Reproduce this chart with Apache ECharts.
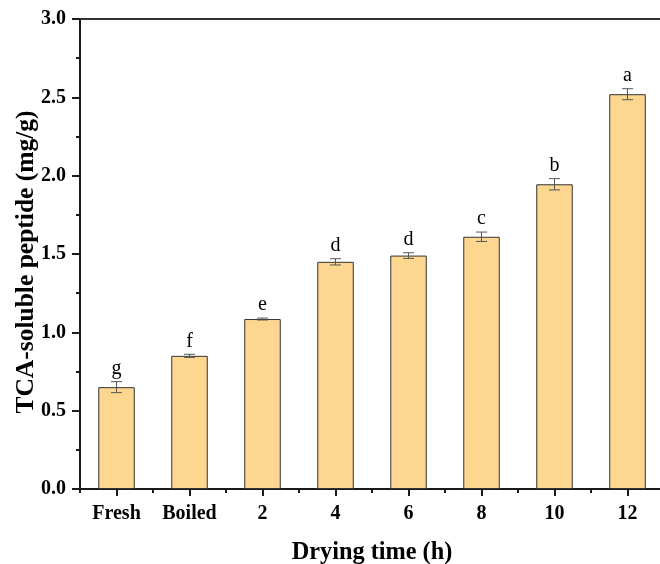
<!DOCTYPE html>
<html><head><meta charset="utf-8">
<script src="https://cdn.jsdelivr.net/npm/echarts@6/dist/echarts.min.js"></script>
<style>html,body{margin:0;padding:0;background:#fff}#c{width:660px;height:564px}</style>
</head><body><div id="c"></div>
<script>
var categories = ['Fresh','Boiled','2','4','6','8','10','12'];
var values = [0.65, 0.85, 1.085, 1.45, 1.49, 1.61, 1.945, 2.52];
var errors = [0.035, 0.01, 0.006, 0.02, 0.018, 0.03, 0.036, 0.035];
var letters = ['g','f','e','d','d','c','b','a'];

var SERIF = '"Liberation Serif","Times New Roman",serif';
var chart = echarts.init(document.getElementById('c'), null, {renderer:'canvas'});
var errData = values.map(function(v,i){return [i, v, errors[i]];});

chart.setOption({
  animation:false,
  grid:{left:80, top:19, width:584, height:470, containLabel:false, outerBoundsMode:'none'},
  xAxis:[
    {type:'category', data:categories, position:'bottom',
     axisLine:{show:true, lineStyle:{color:'#1a1a1a', width:2}},
     axisTick:{show:true, alignWithLabel:true, length:7, lineStyle:{color:'#1a1a1a', width:2}},
     axisLabel:{fontFamily:SERIF, fontWeight:'bold', fontSize:20, color:'#000', margin:15},
     name:'Drying time (h)', nameLocation:'middle', nameGap:52, nameMoveOverlap:false,
     nameTextStyle:{fontFamily:SERIF, fontWeight:'bold', fontSize:24.3, color:'#000'}},
    {type:'category', data:categories, position:'bottom',
     axisLine:{show:false}, axisLabel:{show:false},
     axisTick:{show:true, alignWithLabel:false, length:4, lineStyle:{color:'#1a1a1a', width:2}}},
    {type:'category', data:categories, position:'top',
     axisLine:{show:true, lineStyle:{color:'#333', width:2}},
     axisTick:{show:false}, axisLabel:{show:false}}
  ],
  yAxis:{type:'value', min:0, max:3, interval:0.5,
    axisLine:{show:true, lineStyle:{color:'#1a1a1a', width:2}},
    axisTick:{show:true, length:8, lineStyle:{color:'#1a1a1a', width:2}},
    minorTick:{show:true, splitNumber:2, length:4, lineStyle:{color:'#1a1a1a', width:2}},
    splitLine:{show:false},
    axisLabel:{fontFamily:SERIF, fontWeight:'bold', fontSize:20, color:'#000', margin:14,
      formatter:function(v){return v.toFixed(1);}},
    name:'TCA-soluble peptide (mg/g)', nameLocation:'middle', nameGap:41, nameRotate:90,
    nameMoveOverlap:false,
    nameTextStyle:{fontFamily:SERIF, fontWeight:'bold', fontSize:25.5, color:'#000', padding:[0,16,0,0]}},
  series:[
    {type:'bar', data:values, barWidth:'50%', xAxisIndex:0,
     itemStyle:{color:'#FDD690', borderColor:'#333', borderWidth:1}},
    {type:'custom', xAxisIndex:0, data:errData, z:10,
     renderItem:function(params, api){
       var i = api.value(0), v = api.value(1), e = api.value(2);
       var top = api.coord([i, v+e]), bot = api.coord([i, v-e]);
       var x = top[0], hw = 5.5;
       var st = {stroke:'#555', lineWidth:1};
       return {type:'group', children:[
         {type:'line', shape:{x1:x, y1:top[1], x2:x, y2:bot[1]}, style:st},
         {type:'line', shape:{x1:x-hw, y1:top[1], x2:x+hw, y2:top[1]}, style:st},
         {type:'line', shape:{x1:x-hw, y1:bot[1], x2:x+hw, y2:bot[1]}, style:st},
         {type:'text', x:x, y:top[1]-3, style:{text:letters[params.dataIndex], fill:'#000',
           font:'20px ' + SERIF, textAlign:'center', textVerticalAlign:'bottom'}}
       ]};
     }}
  ]
});
</script></body></html>
